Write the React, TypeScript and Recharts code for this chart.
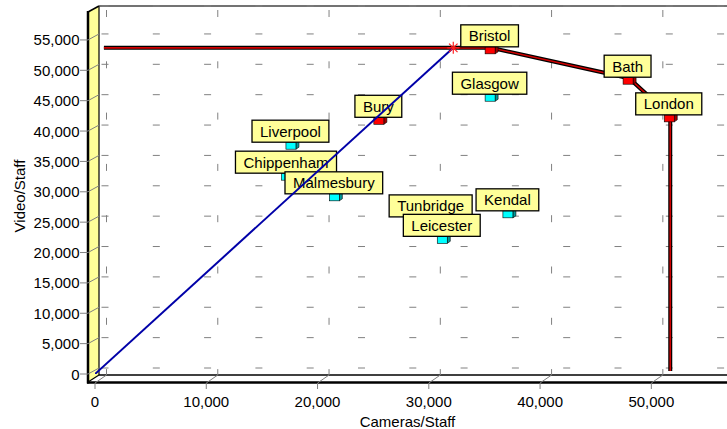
import React from 'react';
import { ScatterChart, Scatter, XAxis, YAxis, CartesianGrid } from 'recharts';

const FONT = "'Liberation Sans', Arial, sans-serif";

// Axis ticks
const X_TICKS = [0, 10000, 20000, 30000, 40000, 50000];
const Y_TICKS = [0, 5000, 10000, 15000, 20000, 25000, 30000, 35000, 40000, 45000, 50000, 55000];
const X_DOMAIN = [0, 56800];
const Y_DOMAIN = [0, 59600];

// Units
const UNIT_NAMES = ['Bristol', 'Bath', 'London', 'Bury', 'Glasgow', 'Liverpool', 'Chippenham', 'Malmesbury', 'Tunbridge', 'Leicester', 'Kendal'];
const UNIT_X = [35600, 48000, 51700, 25600, 35600, 17700, 17300, 21600, 30300, 31300, 37200];
const UNIT_Y = [53700, 48700, 42500, 42100, 45900, 38000, 32900, 29500, 25700, 22500, 26700];
const UNIT_EFFICIENT = [true, true, true, true, false, false, false, false, false, false, false];

// Frontier path
const FRONTIER_X = [800, 32200, 35600, 48000, 51700, 51700];
const FRONTIER_Y = [53700, 53700, 53700, 48700, 42500, 500];

// Ray from origin to target
const RAY_X = [0, 32200];
const RAY_Y = [0, 53700];
const TARGET_X = [32200];
const TARGET_Y = [53700];

const units = UNIT_NAMES.map((name, i) => ({ name, x: UNIT_X[i], y: UNIT_Y[i], eff: UNIT_EFFICIENT[i] }));
const frontier = FRONTIER_X.map((x, i) => ({ x, y: FRONTIER_Y[i] }));
const ray = RAY_X.map((x, i) => ({ x, y: RAY_Y[i] }));
const target = TARGET_X.map((x, i) => ({ x, y: TARGET_Y[i] }));

const fmt = (v: number) => v.toLocaleString('en-US');

let measureCtx: CanvasRenderingContext2D | null = null;
function textWidth(s: string): number {
  if (!measureCtx) {
    const c = document.createElement('canvas');
    measureCtx = c.getContext('2d');
  }
  if (!measureCtx) return s.length * 8;
  measureCtx.font = `15px ${FONT}`;
  return measureCtx.measureText(s).width;
}

const hLine = (props: any) => {
  const y = props.y1 - 6;
  return (
    <line key={`h-${props.index}`} x1={101.5} y1={y} x2={727} y2={y}
      stroke="#808080" strokeWidth={1} strokeDasharray="7 44.3" />
  );
};

const vLine = (props: any) => {
  const x = props.x1 + 11.5;
  return (
    <line key={`v-${props.index}`} x1={x} y1={6} x2={x} y2={375}
      stroke="#808080" strokeWidth={1} strokeDasharray="7 44.3" strokeDashoffset={47.3} />
  );
};

const YTick = (props: any) => {
  const { y, payload } = props;
  return (
    <g>
      <line x1={80} y1={y} x2={88} y2={y} stroke="#808080" strokeWidth={1} />
      <line x1={88} y1={y} x2={99} y2={y - 6} stroke="#808080" strokeWidth={1} />
      <text x={79.5} y={y + 5.5} textAnchor="end" fontSize={15} fontFamily={FONT} fill="#000">
        {fmt(payload.value)}
      </text>
    </g>
  );
};

const XTick = (props: any) => {
  const { x, payload } = props;
  return (
    <g>
      <line x1={x} y1={383} x2={x} y2={389} stroke="#808080" strokeWidth={1} />
      <line x1={x} y1={383} x2={x + 11.5} y2={375} stroke="#808080" strokeWidth={1} />
      <text x={x} y={407} textAnchor="middle" fontSize={15} fontFamily={FONT} fill="#000">
        {fmt(payload.value)}
      </text>
    </g>
  );
};

const Empty = () => <g />;

const Marker = (props: any) => {
  const { cx, cy, payload } = props;
  const front = payload.eff ? '#FF0000' : '#00FFFF';
  const side = payload.eff ? '#A00000' : '#009999';
  const top = payload.eff ? '#FF5050' : '#80FFFF';
  return (
    <g>
      <polygon points={`${cx - 6},${cy - 1} ${cx - 3},${cy - 3} ${cx + 7},${cy - 3} ${cx + 4},${cy - 1}`}
        fill={top} stroke="#000" strokeWidth={0.6} />
      <polygon points={`${cx + 4},${cy - 1} ${cx + 7},${cy - 3} ${cx + 7},${cy + 4} ${cx + 4},${cy + 6}`}
        fill={side} stroke="#000" strokeWidth={0.6} />
      <rect x={cx - 6} y={cy - 1} width={10} height={7} fill={front} stroke="#000" strokeWidth={0.6} />
    </g>
  );
};

const LabelBox = (props: any) => {
  const { cx, cy, payload } = props;
  const w = textWidth(payload.name) + 16;
  const mx = cx - 1.5;
  const top = cy - 23;
  return (
    <g>
      <rect x={mx - w / 2} y={top} width={w} height={22} fill="#FFFF99" stroke="#000" strokeWidth={1.3} />
      <text x={mx} y={top + 16.5} textAnchor="middle" fontSize={15} fontFamily={FONT} fill="#000">
        {payload.name}
      </text>
    </g>
  );
};

const Star = (props: any) => {
  const { cx, cy } = props;
  const r = 6;
  const d = r * 0.7071;
  return (
    <g stroke="#FF2020" strokeWidth={1.2}>
      <line x1={cx - r} y1={cy} x2={cx + r} y2={cy} />
      <line x1={cx} y1={cy - r} x2={cx} y2={cy + r} />
      <line x1={cx - d} y1={cy - d} x2={cx + d} y2={cy + d} />
      <line x1={cx - d} y1={cy + d} x2={cx + d} y2={cy - d} />
    </g>
  );
};

export default function App() {
  return (
    <div style={{ position: 'absolute', left: 0, top: 0, width: 727, height: 429, background: '#fff' }}>
      <svg width={727} height={429} style={{ position: 'absolute', left: 0, top: 0 }}>
        {/* left wall */}
        <polygon points="88,12 99,6 99,375 88,382" fill="#FFFF99" stroke="none" />
        <line x1={88} y1={11} x2={88} y2={383.5} stroke="#000" strokeWidth={2.5} />
        <line x1={99} y1={6} x2={99} y2={375} stroke="#000" strokeWidth={1.2} />
        <line x1={88} y1={12} x2={99} y2={6} stroke="#000" strokeWidth={1.5} />
        <line x1={88} y1={382} x2={99} y2={375} stroke="#000" strokeWidth={1.2} />
        {/* top frame */}
        <line x1={99} y1={6} x2={727} y2={6} stroke="#444" strokeWidth={1.5} />
        {/* floor */}
        <line x1={99} y1={375} x2={727} y2={375} stroke="#000" strokeWidth={1.5} />
        <line x1={87} y1={382.5} x2={727} y2={382.5} stroke="#000" strokeWidth={2.5} />
        {/* axis titles */}
        <text x={407.5} y={427} textAnchor="middle" fontSize={15} fontFamily={FONT} fill="#000">Cameras/Staff</text>
        <text transform="translate(25,196) rotate(-90)" textAnchor="middle" fontSize={15} fontFamily={FONT} fill="#000">Video/Staff</text>
      </svg>
      <div style={{ position: 'absolute', left: 0, top: 0 }}>
        <ScatterChart width={727} height={429} margin={{ top: 12, right: 0, bottom: 25, left: 35 }}>
          <CartesianGrid horizontal={hLine} vertical={vLine} />
          <XAxis type="number" dataKey="x" domain={X_DOMAIN} ticks={X_TICKS} height={30}
            axisLine={false} tickLine={false} tick={XTick} interval={0} allowDataOverflow />
          <YAxis type="number" dataKey="y" domain={Y_DOMAIN} ticks={Y_TICKS} width={60}
            axisLine={false} tickLine={false} tick={YTick} interval={0} allowDataOverflow />
          <Scatter data={frontier} line={{ stroke: '#000000', strokeWidth: 4 }} shape={Empty}
            isAnimationActive={false} legendType="none" />
          <Scatter data={frontier} line={{ stroke: '#D00000', strokeWidth: 1.6 }} shape={Empty}
            isAnimationActive={false} legendType="none" />
          <Scatter data={units} shape={Marker} isAnimationActive={false} legendType="none" />
          <Scatter data={units} shape={LabelBox} isAnimationActive={false} legendType="none" />
          <Scatter data={ray} line={{ stroke: '#0000A8', strokeWidth: 2 }} shape={Empty}
            isAnimationActive={false} legendType="none" />
          <Scatter data={target} shape={Star} isAnimationActive={false} legendType="none" />
        </ScatterChart>
      </div>
    </div>
  );
}
